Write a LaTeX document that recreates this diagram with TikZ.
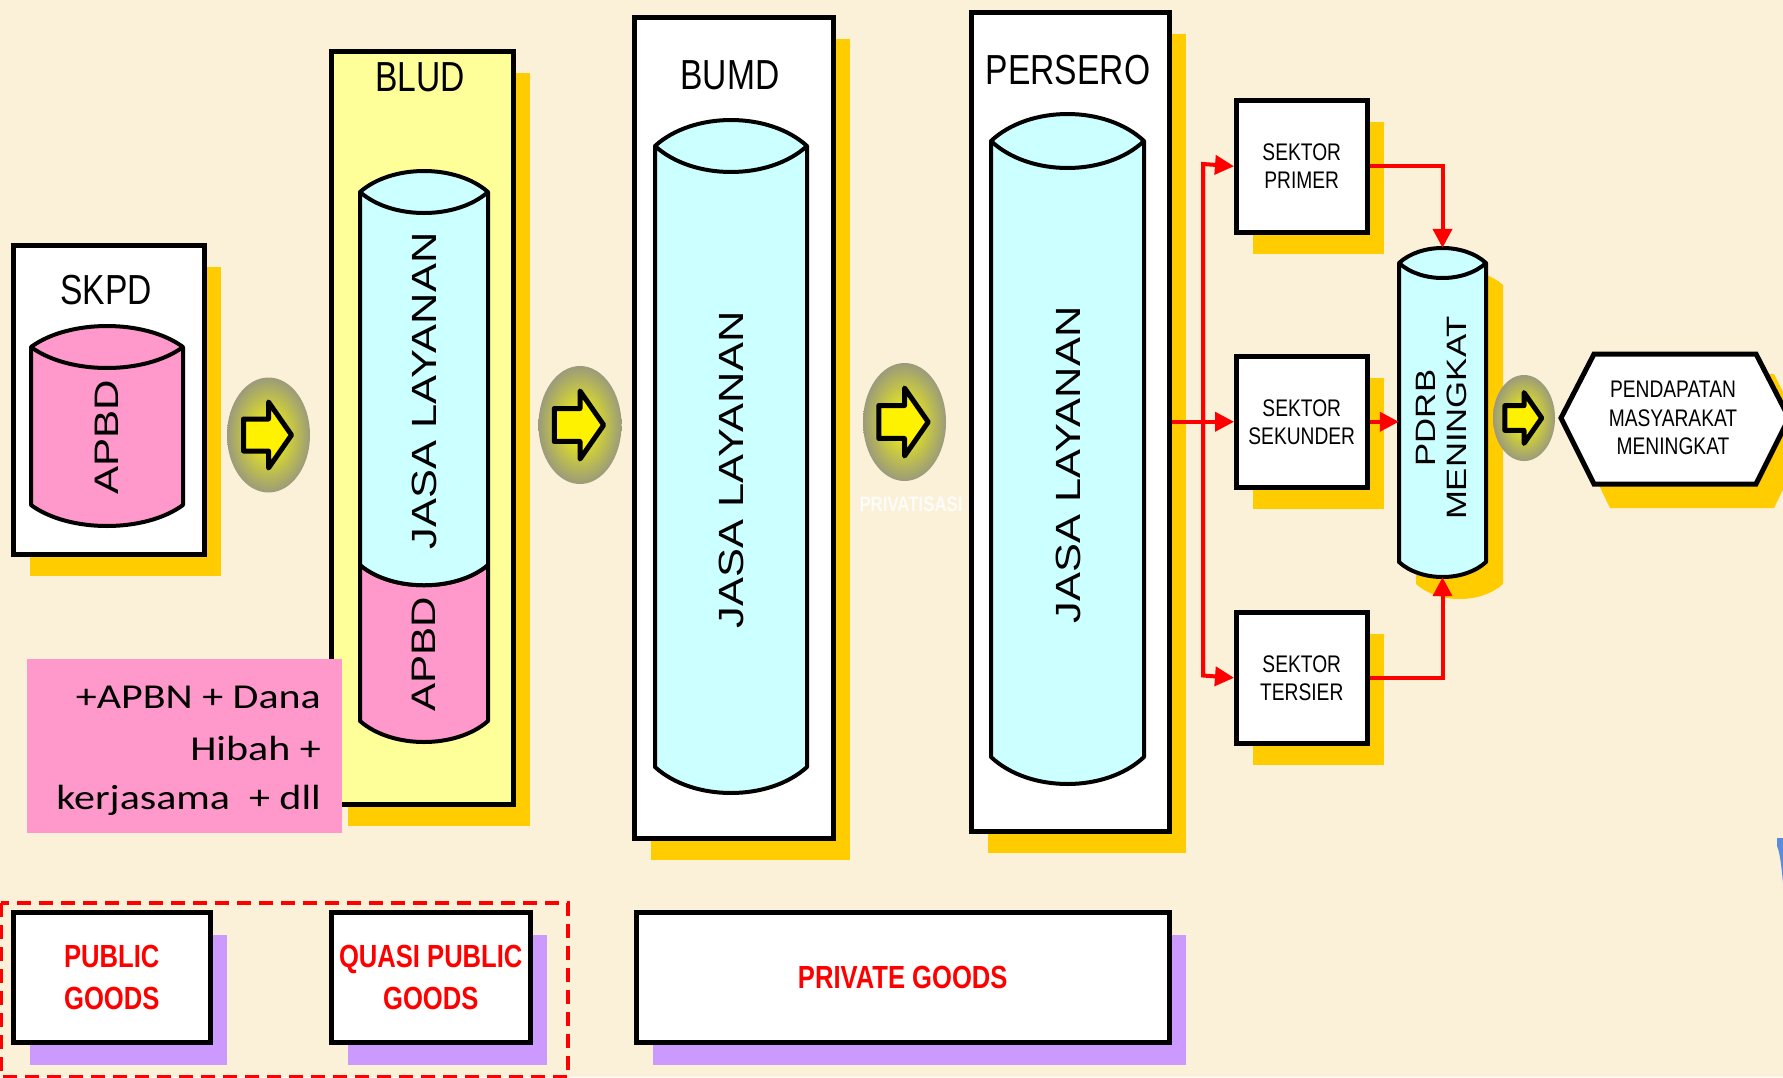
\documentclass[tikz,border=0pt]{standalone}
\usepackage{fontspec}
\setmainfont{Liberation Sans}
\newfontfamily\narrowfont[FakeStretch=0.8]{Liberation Sans}
\newfontfamily\widefont[FakeStretch=1.24]{Liberation Sans}
\newfontfamily\calfont[FakeStretch=1.2]{Carlito}
\usetikzlibrary{shadows,arrows.meta}

\definecolor{bg}{RGB}{251,240,216}
\definecolor{ylw}{RGB}{255,204,0}
\definecolor{prp}{RGB}{204,153,255}
\definecolor{cyn}{RGB}{204,255,255}
\definecolor{pnk}{RGB}{255,153,204}
\definecolor{lylw}{RGB}{255,255,153}
\definecolor{olivegray}{RGB}{155,155,122}
\definecolor{bluish}{RGB}{90,140,220}

% cylinder: fill, xl, xr, ytop, ybot, ry
\newcommand{\mycyl}[6]{%
  \draw[cylline, fill=#1] (#2,#4) .. controls ({#2+0.25*(#3-#2)},{#4-1.333*#6}) and ({#3-0.25*(#3-#2)},{#4-1.333*#6}) .. (#3,#4)
    -- (#3,#5) .. controls ({#3-0.25*(#3-#2)},{#5+1.333*#6}) and ({#2+0.25*(#3-#2)},{#5+1.333*#6}) .. (#2,#5) -- cycle;
  \draw[cylline] (#2,#4) .. controls ({#2+0.25*(#3-#2)},{#4+1.333*#6}) and ({#3-0.25*(#3-#2)},{#4+1.333*#6}) .. (#3,#4);
}
% glow circle with block arrow: cx, cy, rx, ry, scale
\newcommand{\glowarrow}[5]{%
  \shade[inner color=yellow, outer color=olivegray] (#1,#2) ellipse [x radius=#3pt, y radius=#4pt];
  \draw[glyphline, shift={(#1,#2)}, scale=#5] (-25,-16) -- (0,-16) -- (0,-33) -- (23,0) -- (0,33) -- (0,16) -- (-25,16) -- cycle;
}

\begin{document}
\begin{tikzpicture}[x=1pt,y=-1pt,
  box/.style={draw=black, line width=4.5pt, fill=white, inner sep=0pt, anchor=north west,
    general shadow={fill=ylw, shadow xshift=17pt, shadow yshift=-22pt}},
  pbox/.style={draw=black, line width=4.5pt, fill=white, inner sep=0pt, anchor=north west,
    general shadow={fill=prp, shadow xshift=17pt, shadow yshift=-23pt},
    font=\narrowfont\bfseries\fontsize{32}{42}\selectfont, text=red, align=center},
  cylline/.style={draw=black, line width=4pt, line join=round},
  glyphline/.style={draw=black, fill=yellow, line width=5pt, line join=round},
  head/.style={font=\narrowfont\fontsize{42}{48}\selectfont},
  sek/.style={font=\narrowfont\fontsize{24}{28}\selectfont, align=center},
  vtext/.style={rotate=90, font=\widefont\fontsize{35}{40}\selectfont},
  redline/.style={draw=red, line width=4pt, line join=miter},
  redarrow/.style={redline, -{Triangle[width=19pt,length=19pt]}},
]
\useasboundingbox (0,0) rectangle (1783,1077);
\clip (0,0) rectangle (1783,1077);
\fill[bg] (0,0) rectangle (1783,1077);

% ---------- SKPD ----------
\node[box, minimum width=191pt, minimum height=309pt] (skpd) at (11,243) {};
\node[head] (skpdlabel) at (106,290) {SKPD};
\mycyl{pnk}{31}{183}{347}{505}{21}
\node[vtext, font=\widefont\fontsize{34}{40}\selectfont] (apbd1) at (107,437) {APBD};

% ---------- BLUD ----------
\node[box, fill=lylw, minimum width=182pt, minimum height=753pt] (blud) at (329,49) {};
\node[head] (bludlabel) at (420,77) {BLUD};
\draw[cylline, fill=pnk] (360,565) .. controls (392,592) and (456,592) .. (488,565)
  -- (488,721) .. controls (456,749) and (392,749) .. (360,721) -- cycle;
\draw[cylline, fill=cyn] (360,192) .. controls (392,164) and (456,164) .. (488,192)
  -- (488,565) .. controls (456,592) and (392,592) .. (360,565) -- cycle;
\draw[cylline] (360,192) .. controls (392,220) and (456,220) .. (488,192);
\node[vtext] (jl1) at (424,391) {JASA LAYANAN};
\node[vtext, font=\widefont\fontsize{34}{40}\selectfont] (apbd2) at (424,654) {APBD};

% pink box
\node[fill=pnk, inner sep=0pt, anchor=north west, minimum width=315pt, minimum height=174pt] (pinkbox) at (27,659) {};
\node[font=\calfont\fontsize{35}{51}\selectfont, anchor=base east, inner sep=0pt] (apbn1) at (321,708) {+APBN + Dana};
\node[font=\calfont\fontsize{35}{51}\selectfont, anchor=base east, inner sep=0pt] (apbn2) at (321,760) {Hibah +};
\node[font=\calfont\fontsize{35}{51}\selectfont, anchor=base east, inner sep=0pt] (apbn3) at (321,809) {kerjasama\ \ + dll};

% ---------- BUMD ----------
\node[box, minimum width=199pt, minimum height=821pt] (bumd) at (632,15) {};
\node[head] (bumdlabel) at (730,75) {BUMD};
\mycyl{cyn}{655}{807}{146}{767}{26}
\node[vtext] (jl2) at (731,470) {JASA LAYANAN};

% ---------- PERSERO ----------
\node[box, minimum width=198pt, minimum height=819pt] (persero) at (969,10) {};
\node[head] (perserolabel) at (1068,70) {PERSERO};
\mycyl{cyn}{991}{1144}{141}{757}{27}
\node[vtext] (jl3) at (1068,465) {JASA LAYANAN};

% ---------- glow arrows ----------
\glowarrow{268.5}{435}{41.5}{57.5}{1}
\glowarrow{580}{425}{41.5}{59}{1.03}
\glowarrow{904.5}{422}{41.5}{59}{1.03}
\node[font=\narrowfont\bfseries\fontsize{21}{24}\selectfont, text=white, text opacity=0.85] (priv) at (911,504) {PRIVATISASI};

% ---------- sectors ----------
\node[box, sek, minimum width=131pt, minimum height=132pt] (primer) at (1234,98) {SEKTOR\\PRIMER};
\node[box, sek, minimum width=131pt, minimum height=131pt] (sekunder) at (1234,354) {SEKTOR\\SEKUNDER};
\node[box, sek, minimum width=131pt, minimum height=131pt] (tersier) at (1234,610) {SEKTOR\\TERSIER};

% ---------- PDRB cylinder ----------
\begin{scope}[shift={(17,22)}]
\fill[ylw] (1399,263) .. controls (1421,243) and (1464,243) .. (1486,263)
  -- (1486,562) .. controls (1464,582) and (1421,582) .. (1399,562) -- cycle;
\end{scope}
\mycyl{cyn}{1399}{1486}{263}{562}{15}
\node[inner sep=0pt, minimum width=87pt, minimum height=329pt] (pdrb) at (1442.5,412.5) {};
\node[rotate=90, align=center, font=\widefont\fontsize{28}{31}\selectfont] (pdrbtext) at (1441,418) {PDRB\\MENINGKAT};

% ---------- red connectors ----------
\coordinate (jt) at (1203,164);
\coordinate (jb) at (1203,675.5);
\draw[redarrow] (persero.east) -- (sekunder.west);
\draw[redarrow] (jb) -- (jt) -- (primer.west);
\draw[redarrow] (jt) -- (jb) -- (tersier.west);
\draw[redarrow] (primer.east) -| (pdrb.north);
\draw[redarrow] (sekunder.east) -- (sekunder.east -| pdrb.west);
\draw[redarrow] (tersier.east) -| (pdrb.south);

% ---------- final arrow and hexagon ----------
\glowarrow{1524}{418}{31}{43}{0.77}
\fill[ylw, shift={(17,22)}] (1560,418) -- (1593,352) -- (1757,352) -- (1790,418) -- (1757,486) -- (1593,486) -- cycle;
\draw[draw=black, fill=white, line width=5pt, line join=miter] (1561,418) -- (1594,354) -- (1756,354) -- (1789,418) -- (1756,484) -- (1594,484) -- cycle;
\node[sek, font=\narrowfont\fontsize{24}{28.5}\selectfont] (pend) at (1673,418) {PENDAPATAN\\MASYARAKAT\\MENINGKAT};

% ---------- goods ----------
\draw[red, line width=4pt, dash pattern=on 14pt off 8pt] (1,903) rectangle (568,1077);
\node[pbox, minimum width=197pt, minimum height=130pt] (public) at (11,910) {PUBLIC\\GOODS};
\node[pbox, minimum width=199pt, minimum height=130pt] (quasi) at (329,910) {QUASI PUBLIC\\GOODS};
\node[pbox, minimum width=533pt, minimum height=130pt] (private) at (634,910) {PRIVATE GOODS};

% cut-off shape at right edge
\fill[bluish] (1777,838) -- (1784,838) -- (1784,895) .. controls (1782,870) and (1780,852) .. (1777,846) -- cycle;
\end{tikzpicture}
\end{document}
